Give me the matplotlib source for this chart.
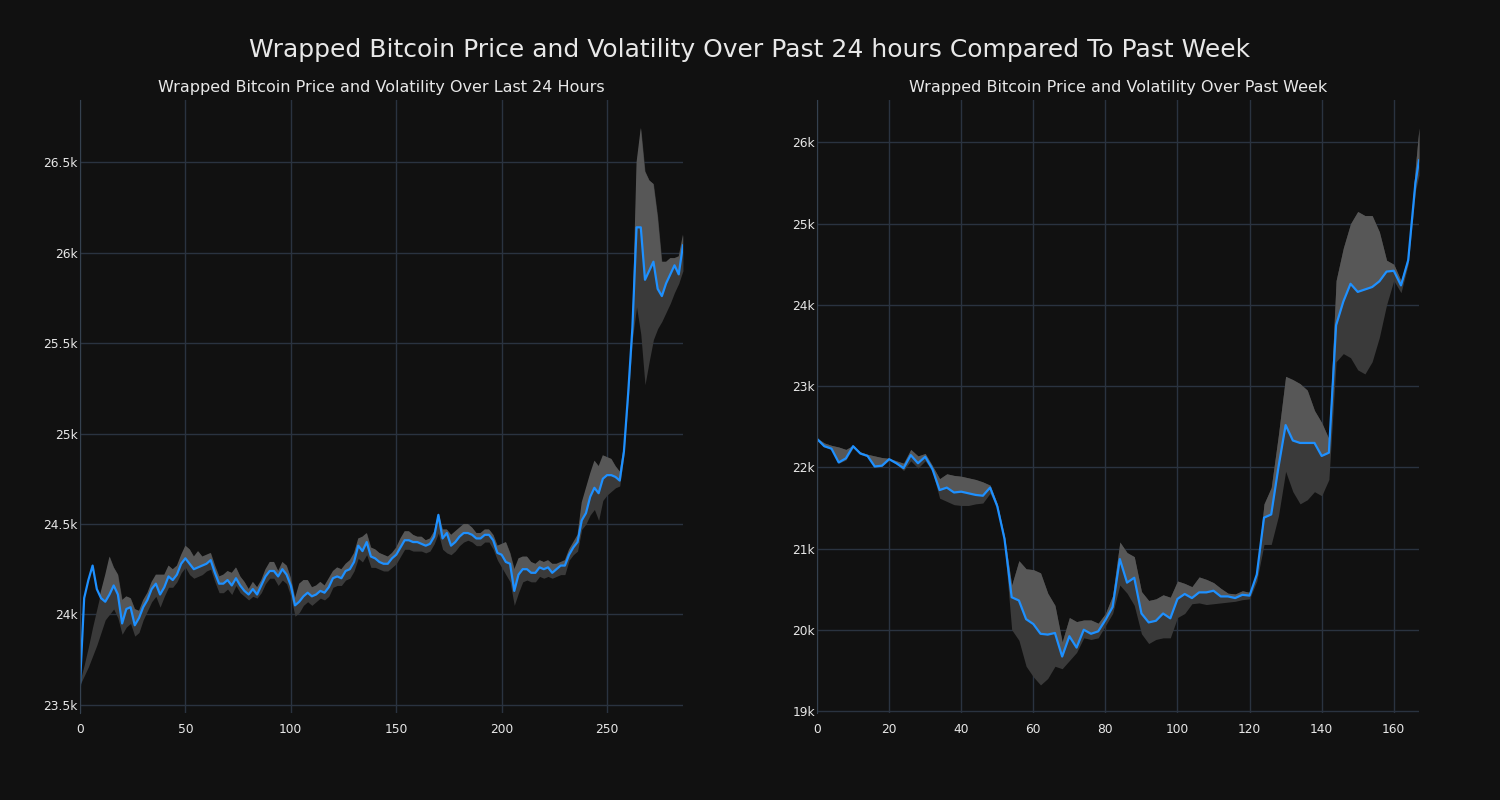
import matplotlib
matplotlib.use("Agg")
import matplotlib.pyplot as plt
from matplotlib.ticker import FuncFormatter

# price (in thousands USD) sampled every 2 steps, last 24 hours
day_x = list(range(0, 287, 2))
day_price = [
    23.61, 24.09, 24.19, 24.27, 24.14, 24.09, 24.07, 24.11, 24.16, 24.11,
    23.95, 24.03, 24.04, 23.94, 23.98, 24.04, 24.08, 24.14, 24.17, 24.11,
    24.15, 24.21, 24.19, 24.22, 24.28, 24.31, 24.28, 24.25, 24.26, 24.27,
    24.28, 24.30, 24.23, 24.17, 24.17, 24.19, 24.16, 24.20, 24.16, 24.13,
    24.11, 24.14, 24.11, 24.16, 24.21, 24.24, 24.24, 24.21, 24.25, 24.22,
    24.16, 24.05, 24.07, 24.10, 24.12, 24.10, 24.11, 24.13, 24.12, 24.15,
    24.20, 24.21, 24.20, 24.24, 24.25, 24.29, 24.38, 24.35, 24.40, 24.32,
    24.31, 24.29, 24.28, 24.28, 24.31, 24.33, 24.37, 24.41, 24.41, 24.40,
    24.40, 24.39, 24.38, 24.39, 24.43, 24.55, 24.42, 24.45, 24.38, 24.40,
    24.43, 24.45, 24.45, 24.44, 24.42, 24.42, 24.44, 24.44, 24.41, 24.34,
    24.33, 24.29, 24.28, 24.13, 24.22, 24.25, 24.25, 24.23, 24.23, 24.26,
    24.25, 24.26, 24.23, 24.25, 24.27, 24.27, 24.33, 24.37, 24.40, 24.52,
    24.56, 24.65, 24.70, 24.67, 24.75, 24.77, 24.77, 24.76, 24.74, 24.90,
    25.22, 25.58, 26.14, 26.14, 25.85, 25.90, 25.95, 25.80, 25.76, 25.83,
    25.88, 25.93, 25.88, 26.04,
]
day_low = [
    23.61, 23.66, 23.71, 23.77, 23.83, 23.90, 23.97, 24.00, 24.03, 23.98,
    23.89, 23.93, 23.95, 23.88, 23.90, 23.97, 24.02, 24.07, 24.10, 24.04,
    24.10, 24.15, 24.15, 24.18, 24.23, 24.26, 24.22, 24.20, 24.21, 24.22,
    24.24, 24.25, 24.18, 24.12, 24.12, 24.14, 24.11, 24.16, 24.12, 24.10,
    24.08, 24.10, 24.09, 24.12, 24.17, 24.20, 24.20, 24.16, 24.19, 24.17,
    24.10, 23.99, 24.01, 24.05, 24.07, 24.05, 24.07, 24.09, 24.08, 24.10,
    24.15, 24.16, 24.16, 24.19, 24.20, 24.24, 24.31, 24.29, 24.33, 24.26,
    24.26, 24.25, 24.24, 24.24, 24.26, 24.28, 24.32, 24.36, 24.36, 24.35,
    24.35, 24.35, 24.34, 24.35, 24.39, 24.45, 24.36, 24.34, 24.33, 24.35,
    24.38, 24.40, 24.41, 24.40, 24.38, 24.38, 24.40, 24.40, 24.36, 24.30,
    24.26, 24.22, 24.18, 24.05, 24.12, 24.18, 24.19, 24.18, 24.18, 24.21,
    24.20, 24.21, 24.20, 24.21, 24.22, 24.22, 24.30, 24.33, 24.35, 24.47,
    24.50, 24.55, 24.58, 24.52, 24.63, 24.66, 24.68, 24.70, 24.71, 24.88,
    25.18, 25.52, 25.70, 25.55, 25.27, 25.40, 25.52, 25.58, 25.62, 25.67,
    25.72, 25.78, 25.83, 25.90,
]
day_high = [
    23.63, 23.72, 23.82, 23.93, 24.03, 24.13, 24.22, 24.32, 24.26, 24.22,
    24.08, 24.10, 24.09, 24.03, 24.02, 24.08, 24.12, 24.18, 24.22, 24.22,
    24.22, 24.27, 24.25, 24.27, 24.33, 24.38, 24.36, 24.32, 24.35, 24.32,
    24.33, 24.34, 24.27, 24.21, 24.22, 24.24, 24.23, 24.26, 24.21, 24.18,
    24.14, 24.18, 24.15, 24.19, 24.25, 24.29, 24.29, 24.24, 24.29, 24.27,
    24.20, 24.09, 24.17, 24.19, 24.19, 24.15, 24.16, 24.18, 24.16, 24.20,
    24.24, 24.26, 24.25, 24.28, 24.30, 24.34, 24.42, 24.43, 24.45, 24.37,
    24.36, 24.34, 24.33, 24.32, 24.34, 24.37, 24.42, 24.46, 24.46, 24.44,
    24.43, 24.43, 24.41, 24.42, 24.46, 24.56, 24.47, 24.47, 24.44, 24.46,
    24.48, 24.50, 24.50, 24.48, 24.45, 24.45, 24.47, 24.47, 24.44, 24.38,
    24.39, 24.40, 24.34, 24.25, 24.31, 24.32, 24.32, 24.29, 24.28, 24.30,
    24.29, 24.30, 24.28, 24.28, 24.29, 24.30, 24.36, 24.40, 24.44, 24.62,
    24.70, 24.78, 24.85, 24.82, 24.88, 24.87, 24.86, 24.82, 24.79, 24.93,
    25.24, 25.62, 26.50, 26.69, 26.45, 26.40, 26.38, 26.20, 25.95, 25.95,
    25.97, 25.97, 25.98, 26.10,
]

# price (in thousands USD) sampled every 2 hours, past week
week_x = list(range(0, 167, 2)) + [167]
week_price = [
    22.35, 22.26, 22.23, 22.06, 22.11, 22.26, 22.17, 22.14, 22.01, 22.02,
    22.10, 22.05, 21.99, 22.15, 22.05, 22.13, 21.98, 21.72, 21.75, 21.69,
    21.70, 21.68, 21.66, 21.65, 21.75, 21.52, 21.12, 20.40, 20.36, 20.13,
    20.07, 19.95, 19.94, 19.96, 19.67, 19.92, 19.78, 20.00, 19.95, 19.98,
    20.12, 20.28, 20.87, 20.58, 20.64, 20.20, 20.09, 20.11, 20.20, 20.14,
    20.38, 20.44, 20.39, 20.46, 20.46, 20.48, 20.41, 20.41, 20.39, 20.43,
    20.42, 20.68, 21.38, 21.42, 22.00, 22.52, 22.33, 22.30, 22.30, 22.30,
    22.14, 22.18, 23.75, 24.04, 24.26, 24.16, 24.19, 24.22, 24.29, 24.41,
    24.42, 24.24, 24.55, 25.50, 25.78,
]
week_low = [
    22.33, 22.25, 22.22, 22.05, 22.09, 22.24, 22.16, 22.13, 22.00, 22.01,
    22.09, 22.04, 21.96, 22.08, 21.99, 22.08, 21.95, 21.62, 21.58, 21.54,
    21.53, 21.53, 21.55, 21.56, 21.68, 21.50, 21.05, 20.00, 19.87, 19.55,
    19.42, 19.32, 19.40, 19.55, 19.52, 19.62, 19.72, 19.90, 19.88, 19.90,
    20.05, 20.20, 20.55, 20.45, 20.30, 19.95, 19.83, 19.88, 19.90, 19.90,
    20.15, 20.20, 20.32, 20.33, 20.31, 20.32, 20.33, 20.34, 20.35, 20.37,
    20.38, 20.60, 21.05, 21.05, 21.40, 21.95, 21.70, 21.55, 21.60, 21.70,
    21.65, 21.85, 23.30, 23.40, 23.35, 23.20, 23.15, 23.30, 23.60, 24.00,
    24.30, 24.15, 24.50, 25.40, 25.60,
]
week_high = [
    22.36, 22.30, 22.27, 22.25, 22.22, 22.27, 22.19, 22.16, 22.14, 22.12,
    22.11, 22.08, 22.05, 22.22, 22.14, 22.17, 22.02, 21.86, 21.92, 21.90,
    21.89, 21.87, 21.85, 21.82, 21.78, 21.55, 21.15, 20.55, 20.85, 20.75,
    20.74, 20.70, 20.45, 20.30, 19.85, 20.15, 20.10, 20.12, 20.12, 20.08,
    20.20, 20.42, 21.08, 20.95, 20.90, 20.47, 20.36, 20.38, 20.43, 20.40,
    20.60, 20.57, 20.53, 20.65, 20.62, 20.58, 20.51, 20.45, 20.44, 20.48,
    20.46, 20.70, 21.55, 21.75, 22.40, 23.12, 23.08, 23.03, 22.95, 22.70,
    22.55, 22.35, 24.30, 24.70, 25.00, 25.15, 25.10, 25.10, 24.90, 24.55,
    24.50, 24.30, 24.60, 25.70, 26.18,
]

BG = '#111111'
GRID = '#2a3340'
TEXT = '#e8e8e8'


def draw(ax, x, price, low, high, title):
    ax.set_facecolor(BG)
    ax.fill_between(x, low, high, color='#3a3a3a', lw=0)
    ax.fill_between(x, price, high, where=[h > p for h, p in zip(high, price)],
                    interpolate=True, color='#575757', lw=0)
    ax.plot(x, price, color='#1e90ff', lw=1.6)
    ax.set_xlim(x[0], x[-1])
    ax.grid(True, color=GRID, lw=1)
    ax.set_axisbelow(True)
    for side in ['top', 'right', 'bottom']:
        ax.spines[side].set_visible(False)
    ax.spines['left'].set_color('#35414f')
    ax.yaxis.set_major_formatter(FuncFormatter(lambda v, p: f"{v:g}k"))
    ax.tick_params(axis='y', length=0, pad=1.5, colors=TEXT, labelsize=8.8)
    ax.tick_params(axis='x', length=0, pad=7, colors=TEXT, labelsize=8.8)
    ax.set_title(title, color=TEXT, fontsize=11.5, pad=6)


fig = plt.figure(figsize=(15, 8), dpi=100, facecolor=BG)
ax1 = fig.add_axes([0.0533, 0.109, 0.402, 0.766])
ax2 = fig.add_axes([0.5447, 0.109, 0.4013, 0.766])

draw(ax1, day_x, day_price, day_low, day_high,
     'Wrapped Bitcoin Price and Volatility Over Last 24 Hours')
draw(ax2, week_x, week_price, week_low, week_high,
     'Wrapped Bitcoin Price and Volatility Over Past Week')

fig.suptitle('Wrapped Bitcoin Price and Volatility Over Past 24 hours Compared To Past Week',
             color=TEXT, fontsize=18, y=0.9375, va='center')

fig.savefig('out.png', dpi=100, facecolor=BG)
